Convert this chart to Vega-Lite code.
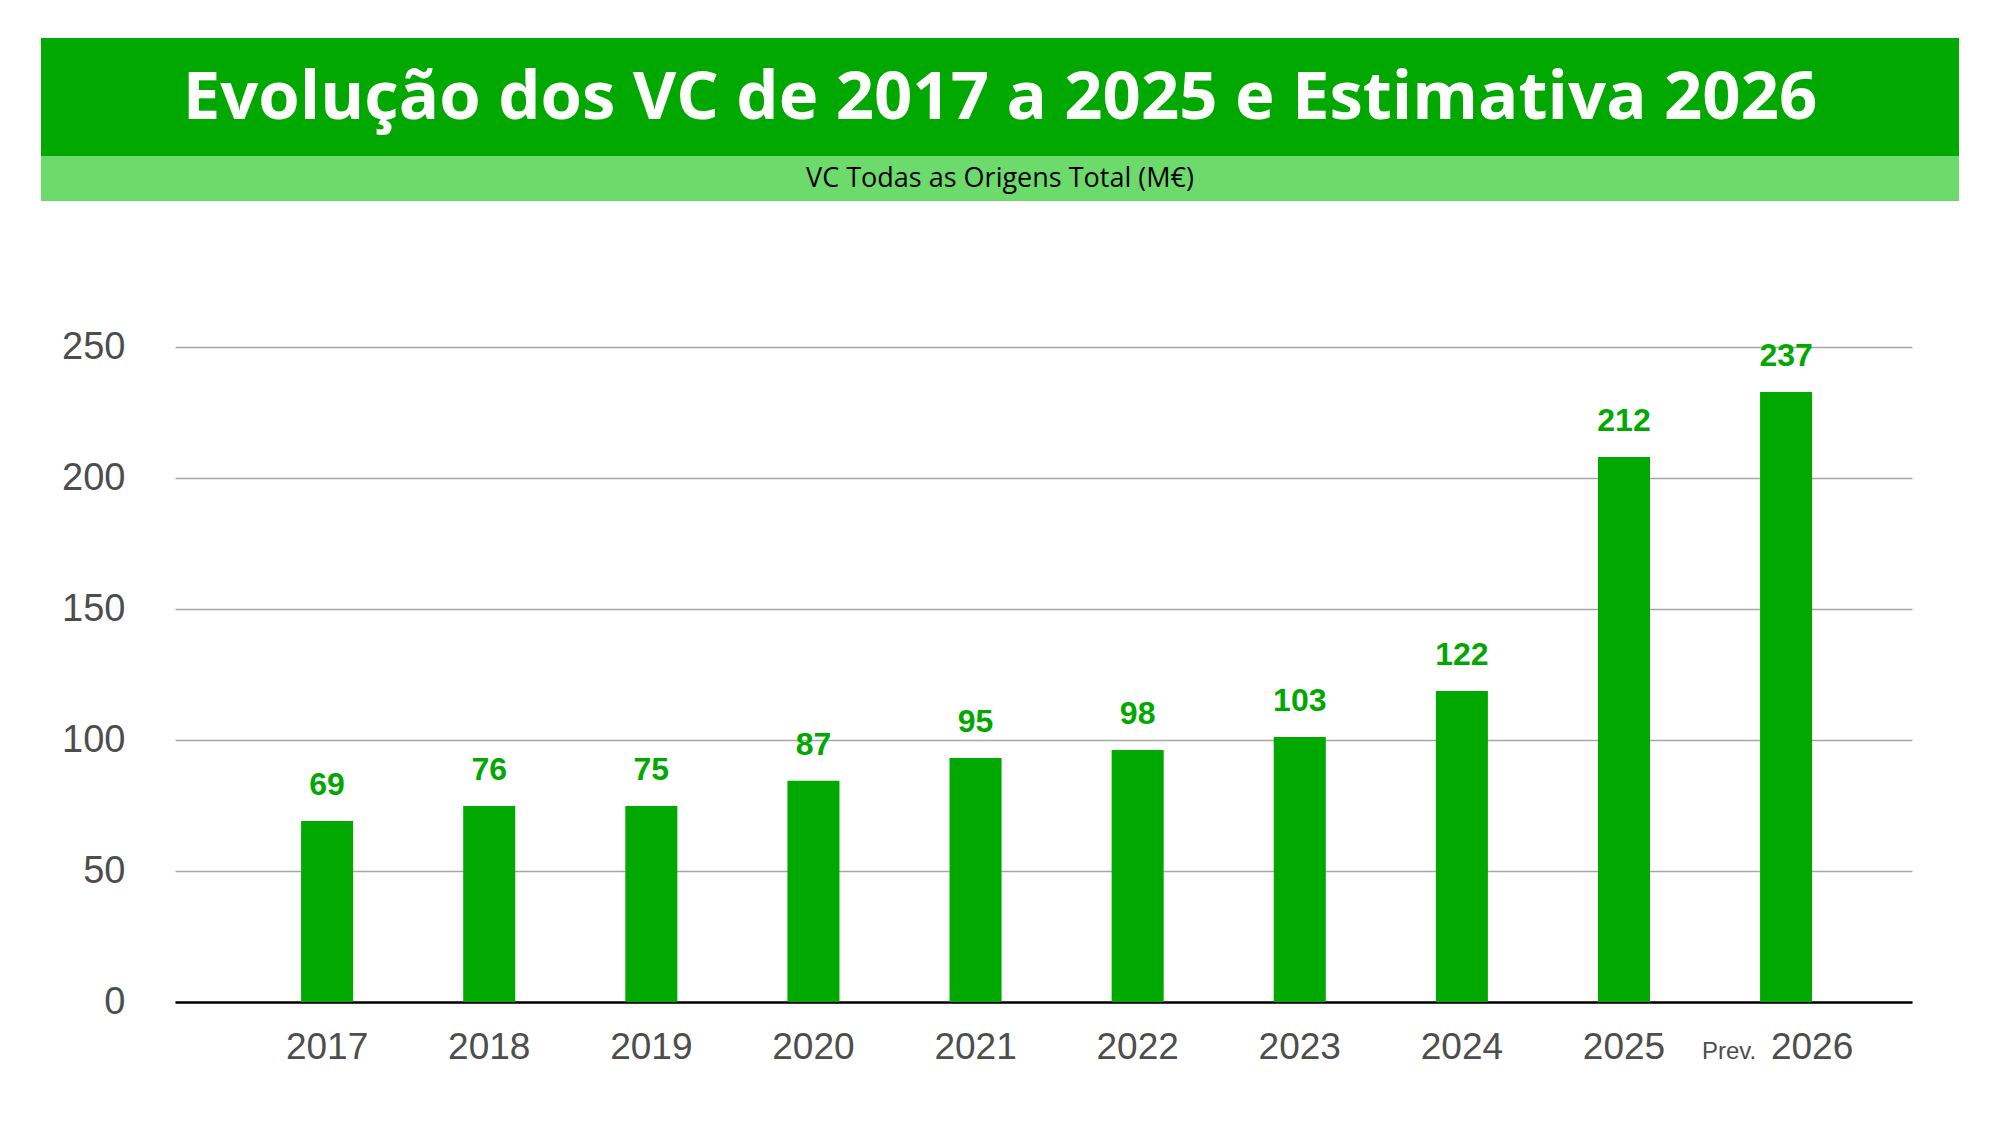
{
  "$schema": "https://vega.github.io/schema/vega-lite/v6.json",
  "background": "white",
  "padding": {"left": 41, "top": 38, "right": 0, "bottom": 0},
  "config": {"view": {"stroke": null}},
  "spacing": 127,
  "vconcat": [
    {
      "spacing": 0,
      "vconcat": [
        {
          "width": 1918,
          "height": 118,
          "data": {"values": [{"titulo": "Evolução dos VC de 2017 a 2025 e Estimativa 2026"}]},
          "layer": [
            {"mark": {"type": "rect", "color": "#00A800"}, "encoding": {}},
            {
              "mark": {"type": "text", "color": "white", "font": "Open Sans", "fontWeight": "bold", "fontSize": 67, "align": "center", "baseline": "middle", "dy": 2},
              "encoding": {"text": {"field": "titulo"}}
            }
          ]
        },
        {
          "width": 1918,
          "height": 45,
          "data": {"values": [{"sub": "VC Todas as Origens Total (M€)"}]},
          "layer": [
            {"mark": {"type": "rect", "color": "#6CDB6C"}, "encoding": {}},
            {
              "mark": {"type": "text", "color": "black", "font": "Open Sans", "fontSize": 27, "align": "center", "baseline": "middle"},
              "encoding": {"text": {"field": "sub"}}
            }
          ]
        }
      ]
    },
    {
      "spacing": 0,
      "hconcat": [
        {
          "width": 1,
          "height": 655,
          "data": {"values": [{"vazio": 0}]},
          "mark": {"type": "rect", "opacity": 0},
          "encoding": {}
        },
        {
          "width": 1737,
          "height": 655,
          "data": {
            "values": [
              {"ano": "2017", "valor": 69.1, "rotulo": "69"},
              {"ano": "2018", "valor": 74.8, "rotulo": "76"},
              {"ano": "2019", "valor": 74.8, "rotulo": "75"},
              {"ano": "2020", "valor": 84.4, "rotulo": "87"},
              {"ano": "2021", "valor": 93.1, "rotulo": "95"},
              {"ano": "2022", "valor": 96.2, "rotulo": "98"},
              {"ano": "2023", "valor": 101.1, "rotulo": "103"},
              {"ano": "2024", "valor": 118.7, "rotulo": "122"},
              {"ano": "2025", "valor": 208.0, "rotulo": "212"},
              {"ano": "2026", "valor": 232.8, "rotulo": "237", "prefixo": "Prev."}
            ]
          },
          "encoding": {
            "x": {
              "field": "ano",
              "type": "ordinal",
              "sort": null,
              "scale": {"paddingInner": 0.679, "paddingOuter": 0.697, "align": 0.558},
              "axis": {
                "title": null,
                "labelAngle": 0,
                "domain": true,
                "domainColor": "#000000",
                "domainWidth": 2.5,
                "ticks": false,
                "tickSize": 0,
                "labelFont": "Liberation Sans",
                "labelFontSize": 37,
                "labelColor": "#4D4D4D",
                "labelPadding": 27,
                "labelOffset": {"condition": {"test": "datum.value === '2026'", "value": 26}, "value": 0}
              }
            }
          },
          "layer": [
            {
              "mark": {"type": "bar", "color": "#00A800"},
              "encoding": {
                "y": {
                  "field": "valor",
                  "type": "quantitative",
                  "scale": {"domain": [0, 250], "nice": false, "zero": true},
                  "axis": {
                    "title": null,
                    "values": [0, 50, 100, 150, 200, 250],
                    "domain": false,
                    "ticks": false,
                    "tickSize": 0,
                    "grid": true,
                    "gridColor": "#A6A6A6",
                    "gridWidth": 1.3,
                    "labelFont": "Liberation Sans",
                    "labelFontSize": 38,
                    "labelColor": "#4D4D4D",
                    "labelPadding": 50,
                    "minExtent": 133
                  }
                }
              }
            },
            {
              "mark": {"type": "text", "color": "#00A800", "font": "Liberation Sans", "fontWeight": "bold", "fontSize": 32, "align": "center", "baseline": "alphabetic", "dy": -26},
              "encoding": {
                "y": {"field": "valor", "type": "quantitative"},
                "text": {"field": "rotulo"}
              }
            },
            {
              "transform": [{"filter": "isValid(datum.prefixo)"}],
              "mark": {"type": "text", "color": "#4D4D4D", "font": "Liberation Sans", "fontSize": 24, "align": "center", "baseline": "alphabetic", "dx": -57, "dy": 57},
              "encoding": {
                "y": {"datum": 0},
                "text": {"field": "prefixo"}
              }
            }
          ]
        }
      ]
    }
  ]
}
